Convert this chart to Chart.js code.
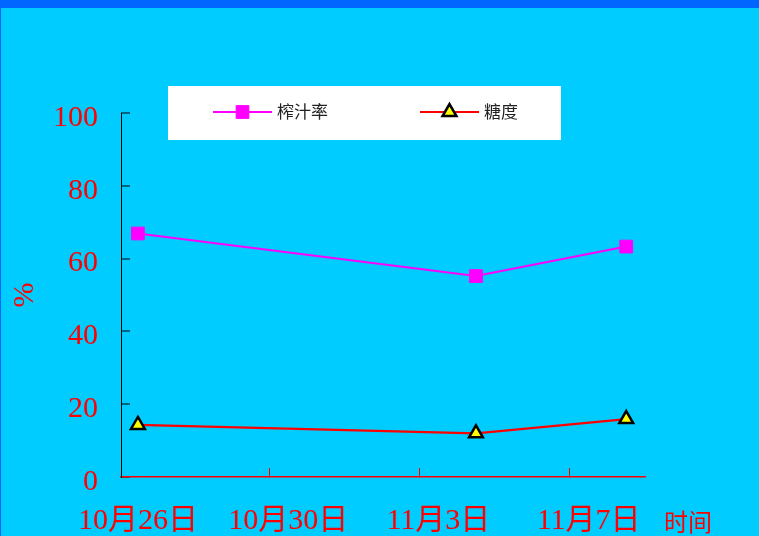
<!DOCTYPE html>
<html>
<head>
<meta charset="utf-8">
<script src="https://cdn.jsdelivr.net/npm/chart.js"></script>
<style>
  html, body { margin: 0; padding: 0; background: #0066FF; width: 759px; height: 536px; overflow: hidden; }
  #wrap { position: absolute; left: 1px; top: 8px; width: 758px; height: 528px; background: #00CCFF; }
</style>
</head>
<body>
<div id="wrap"><canvas id="chart" width="758" height="528"></canvas></div>
<script>
// 取样日期（以10月26日为第0天）
const sampleDays = [0, 9, 13];          // 10月26日, 11月4日, 11月8日
const juiceRate = [66.9, 55.2, 63.3];   // 榨汁率 %
const sugar = [14.3, 12.0, 15.9];       // 糖度 %

// 横轴刻度
const dateLabels = ['10月26日', '10月30日', '11月3日', '11月7日'];
const labelDays = [0, 4, 8, 12];
const markDays = [3.5, 7.5, 11.5];
const yTicks = [0, 20, 40, 60, 80, 100];

const SERIF = "'Liberation Serif', 'Noto Sans CJK SC', serif";
const SANS = "'Noto Sans CJK SC', sans-serif";

// 图例（白底框，线+标记）和横轴名称
const boxLegend = {
    id: 'boxLegend',
    afterDraw(chart) {
        const ctx = chart.ctx;
        ctx.save();
        ctx.fillStyle = '#ffffff';
        ctx.fillRect(167, 78, 393, 54);
        const startX = [212, 419];
        chart.data.datasets.forEach((ds, i) => {
            const x0 = startX[i], y = 104, len = 59;
            ctx.strokeStyle = ds.borderColor;
            ctx.lineWidth = 2;
            ctx.beginPath();
            ctx.moveTo(x0, y);
            ctx.lineTo(x0 + len, y);
            ctx.stroke();
            ctx.fillStyle = ds.pointBackgroundColor;
            ctx.strokeStyle = ds.pointBorderColor;
            ctx.lineWidth = ds.pointBorderWidth;
            Chart.helpers.drawPoint(ctx, { pointStyle: ds.pointStyle, radius: ds.pointRadius, borderWidth: ds.pointBorderWidth }, x0 + len / 2, y);
            ctx.fillStyle = '#222';
            ctx.font = '17px ' + SANS;
            ctx.textBaseline = 'middle';
            ctx.textAlign = 'left';
            ctx.fillText(ds.label, x0 + len + 5, y);
        });
        const a = chart.chartArea;
        ctx.fillStyle = '#ff0000';
        ctx.font = '24px ' + SANS;
        ctx.textBaseline = 'middle';
        ctx.fillText('时间', a.right + 19, a.bottom + 45);
        ctx.restore();
    }
};

new Chart(document.getElementById('chart'), {
    type: 'line',
    data: {
        datasets: [{
            label: '榨汁率',
            data: sampleDays.map((d, i) => ({ x: d, y: juiceRate[i] })),
            borderColor: '#ff00ff',
            borderWidth: 2,
            pointStyle: 'rect',
            pointRadius: 9,
            pointBackgroundColor: '#ff00ff',
            pointBorderColor: '#ff00ff',
            pointBorderWidth: 1,
            tension: 0
        }, {
            label: '糖度',
            data: sampleDays.map((d, i) => ({ x: d, y: sugar[i] })),
            borderColor: '#ff0000',
            borderWidth: 2.2,
            pointStyle: 'triangle',
            pointRadius: 8,
            pointBackgroundColor: '#ffff00',
            pointBorderColor: '#000000',
            pointBorderWidth: 2.5,
            tension: 0
        }]
    },
    options: {
        responsive: false,
        animation: false,
        layout: { padding: { top: 105, right: 114, left: 0, bottom: 0 } },
        plugins: { legend: { display: false }, tooltip: { enabled: false } },
        scales: {
            x: {
                type: 'linear',
                min: -0.45,
                max: 13.5,
                afterFit: s => { s.height = 59; },
                afterBuildTicks: s => {
                    s.ticks = labelDays.concat(markDays).sort((a, b) => a - b).map(v => ({ value: v }));
                },
                border: { color: '#ff0000', width: 1.5 },
                grid: {
                    drawOnChartArea: false,
                    drawTicks: true,
                    tickLength: -9,
                    lineWidth: 1,
                    color: c => (c.tick && markDays.includes(c.tick.value)) ? '#ff0000' : 'rgba(0,0,0,0)'
                },
                ticks: {
                    autoSkip: false,
                    maxRotation: 0,
                    padding: 35,
                    color: '#ff0000',
                    font: { family: SERIF, size: 30 },
                    callback: v => {
                        const i = labelDays.indexOf(v);
                        return i >= 0 ? dateLabels[i] : '';
                    }
                }
            },
            y: {
                min: 0,
                max: 100,
                afterFit: s => { s.width = 120; },
                afterBuildTicks: s => { s.ticks = yTicks.map(v => ({ value: v })); },
                border: { color: '#000000', width: 1 },
                grid: {
                    drawOnChartArea: false,
                    drawTicks: true,
                    tickLength: -9,
                    lineWidth: 2,
                    color: 'rgba(0,0,0,0.5)'
                },
                ticks: {
                    padding: 32,
                    labelOffset: 5,
                    color: '#ff0000',
                    font: { family: SERIF, size: 30 }
                },
                title: {
                    display: true,
                    text: '%',
                    color: '#ff0000',
                    font: { family: SERIF, size: 30 },
                    padding: { top: 6, bottom: 0 }
                }
            }
        }
    },
    plugins: [boxLegend]
});
</script>
</body>
</html>
